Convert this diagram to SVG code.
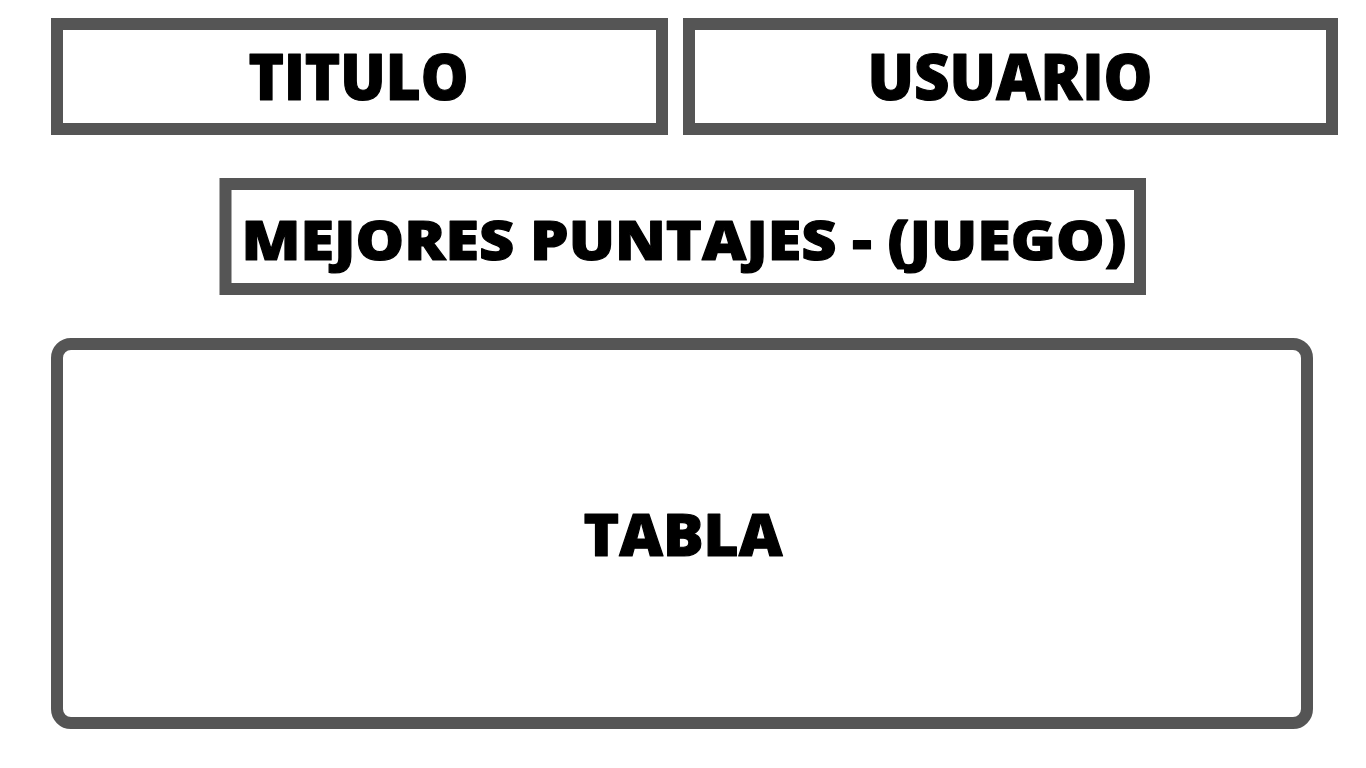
<svg xmlns="http://www.w3.org/2000/svg" width="1366" height="768" viewBox="0 0 1366 768">
<style>
.box{fill:#fff;stroke:#555555;stroke-width:12}
.t{font-family:"Open Sans","Liberation Sans",sans-serif;font-weight:800;fill:#000;stroke:#000;stroke-width:1.2;stroke-linejoin:round;text-anchor:middle}
</style>
<rect width="1366" height="768" fill="#fff"/>
<g id="titulo">
<rect class="box" x="57" y="24" width="605" height="105"/>
<text class="t" x="358.5" y="100" font-size="63" textLength="220" lengthAdjust="spacingAndGlyphs">TITULO</text>
</g>
<g id="usuario">
<rect class="box" x="689" y="24" width="643" height="105"/>
<text class="t" x="1010" y="100" font-size="63" textLength="285" lengthAdjust="spacingAndGlyphs">USUARIO</text>
</g>
<g id="mejores">
<rect class="box" x="225.5" y="184" width="914.5" height="105"/>
<text class="t" x="684" y="260" font-size="55" textLength="885" lengthAdjust="spacingAndGlyphs">MEJORES PUNTAJES - (JUEGO)</text>
</g>
<g id="tabla">
<rect class="box" x="57" y="344" width="1250" height="379" rx="14"/>
<text class="t" x="683" y="556" font-size="59" textLength="199" lengthAdjust="spacingAndGlyphs">TABLA</text>
</g>
<g id="connectors"/>
</svg>
